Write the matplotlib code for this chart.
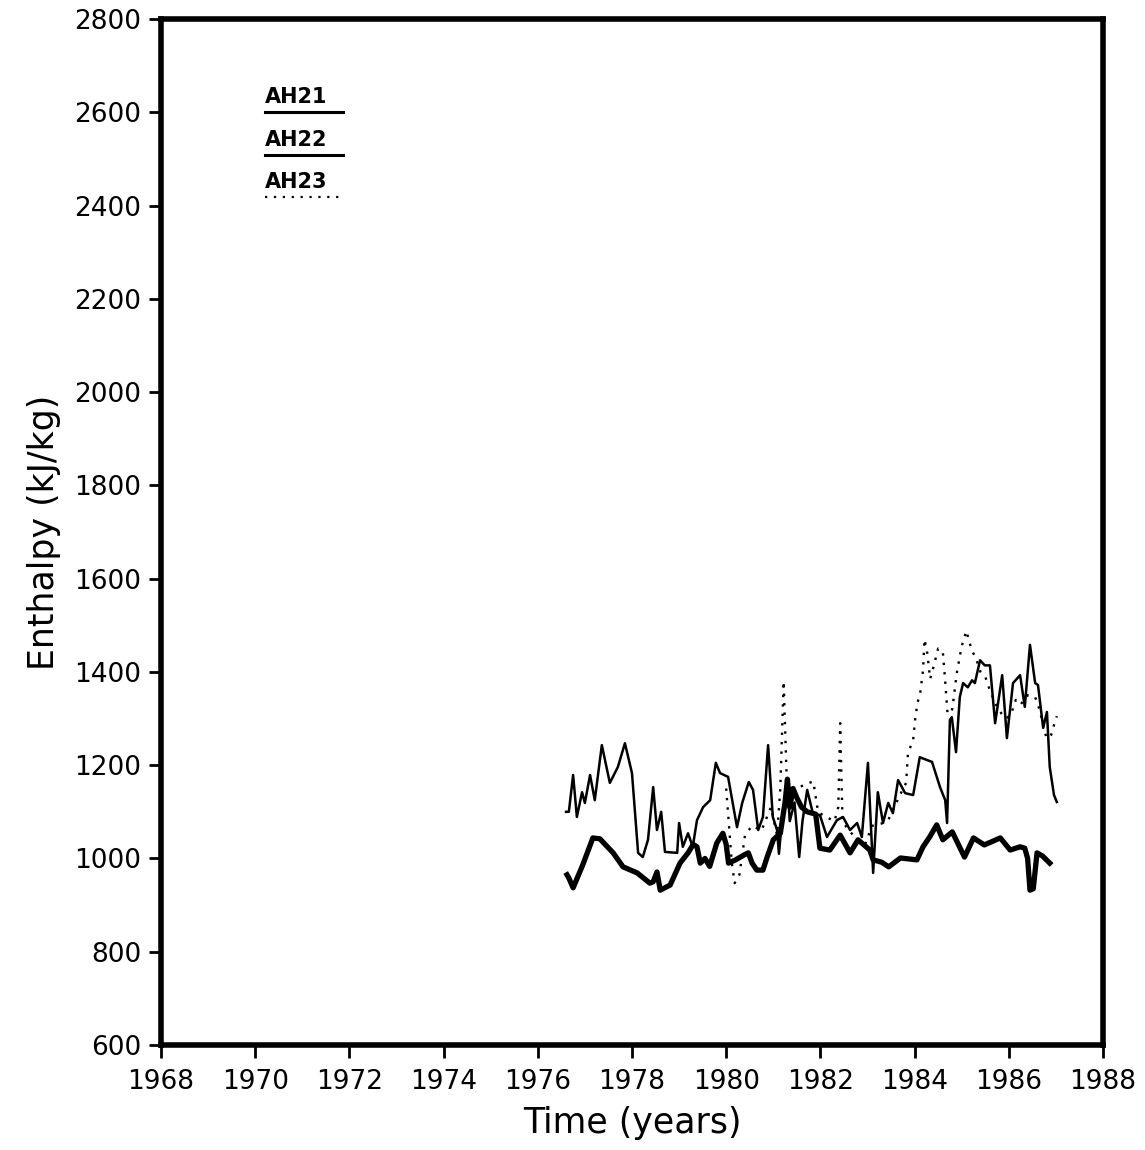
import matplotlib
matplotlib.use("Agg")
import matplotlib.pyplot as plt

# Data (year, enthalpy kJ/kg)
ah21_t = [1976.62, 1976.66, 1976.75, 1976.95, 1977.17, 1977.32, 1977.60, 1977.81,
          1978.11, 1978.38, 1978.45, 1978.53, 1978.60, 1978.81, 1979.02, 1979.19,
          1979.30, 1979.38, 1979.45, 1979.55, 1979.65, 1979.80, 1979.93, 1980.00,
          1980.05, 1980.20, 1980.37, 1980.47, 1980.55, 1980.65, 1980.78, 1980.87,
          1981.00, 1981.15, 1981.25, 1981.30, 1981.35, 1981.42, 1981.50, 1981.60,
          1981.72, 1981.90, 1981.99, 1982.20, 1982.42, 1982.63, 1982.80, 1983.05,
          1983.12, 1983.30, 1983.45, 1983.70, 1984.05, 1984.18, 1984.32, 1984.47,
          1984.60, 1984.80, 1985.06, 1985.25, 1985.48, 1985.82, 1986.03, 1986.24,
          1986.34, 1986.40, 1986.45, 1986.52, 1986.60, 1986.72, 1986.87]
ah21_v = [965, 958, 937, 985, 1044, 1042, 1012, 982,
          969, 947, 950, 971, 932, 943, 990, 1012,
          1030, 1025, 990, 1000, 983, 1033, 1054, 1030,
          990, 997, 1007, 1012, 990, 975, 975, 1003,
          1040, 1054, 1120, 1170, 1110, 1150, 1130, 1110,
          1100, 1095, 1022, 1018, 1050, 1012, 1040, 1018,
          997, 992, 982, 1001, 997, 1025, 1046, 1072,
          1040, 1057, 1003, 1044, 1029, 1044, 1018, 1025,
          1022, 1000, 932, 935, 1012, 1005, 990]

ah22_t = [1976.60, 1976.66, 1976.75, 1976.83, 1976.94, 1977.00, 1977.11, 1977.21,
          1977.36, 1977.53, 1977.70, 1977.85, 1978.00, 1978.13, 1978.23, 1978.34,
          1978.45, 1978.53, 1978.62, 1978.70, 1978.96, 1979.00, 1979.08, 1979.19,
          1979.29, 1979.38, 1979.51, 1979.66, 1979.78, 1979.87, 1980.04, 1980.23,
          1980.34, 1980.48, 1980.57, 1980.68, 1980.78, 1980.89, 1980.99, 1981.08,
          1981.12, 1981.20, 1981.30, 1981.35, 1981.45, 1981.55, 1981.62, 1981.72,
          1981.84, 1981.99, 1982.14, 1982.35, 1982.48, 1982.63, 1982.78, 1982.88,
          1983.01, 1983.12, 1983.22, 1983.33, 1983.44, 1983.54, 1983.65, 1983.80,
          1983.97, 1984.11, 1984.37, 1984.54, 1984.65, 1984.69, 1984.75, 1984.79,
          1984.88, 1984.96, 1985.03, 1985.13, 1985.22, 1985.28, 1985.39, 1985.49,
          1985.60, 1985.71, 1985.86, 1985.96, 1986.09, 1986.24, 1986.34, 1986.45,
          1986.56, 1986.62, 1986.73, 1986.81, 1986.87, 1986.96, 1987.02]
ah22_v = [1100, 1100, 1179, 1089, 1142, 1119, 1179, 1125,
          1243, 1162, 1196, 1247, 1183, 1012, 1003, 1040,
          1153, 1061, 1100, 1014, 1012, 1076, 1025, 1054,
          1025, 1082, 1110, 1125, 1205, 1183, 1175, 1067,
          1119, 1164, 1147, 1061, 1089, 1243, 1089, 1061,
          1010, 1100, 1160, 1080, 1120, 1003, 1080, 1147,
          1097, 1093, 1046, 1082, 1089, 1061, 1076, 1046,
          1205, 969, 1142, 1076, 1119, 1097, 1168, 1140,
          1136, 1217, 1207, 1153, 1125, 1076, 1297, 1303,
          1228, 1346, 1376, 1367, 1382, 1376, 1425, 1414,
          1414, 1290, 1393, 1258, 1376, 1393, 1325, 1458,
          1376, 1372, 1280, 1314, 1196, 1136, 1121]

ah23_t = [1980.00, 1980.12, 1980.18, 1980.28, 1980.40, 1980.55, 1980.75, 1980.95,
          1981.08, 1981.15, 1981.22, 1981.30, 1981.38, 1981.50, 1981.70, 1981.85,
          1981.95, 1982.10, 1982.30, 1982.38, 1982.42, 1982.47, 1982.60, 1982.80,
          1982.95, 1983.10, 1983.30, 1983.44, 1983.69, 1983.82, 1983.86, 1983.97,
          1984.01, 1984.06, 1984.12, 1984.18, 1984.21, 1984.27, 1984.33, 1984.40,
          1984.50, 1984.60, 1984.65, 1984.70, 1984.80, 1984.90, 1985.00, 1985.10,
          1985.16, 1985.22, 1985.30, 1985.40, 1985.50, 1985.60, 1985.75, 1985.85,
          1985.95, 1986.05, 1986.15, 1986.25, 1986.40, 1986.56, 1986.65, 1986.80,
          1986.90, 1986.96, 1987.02]
ah23_v = [1150, 990, 947, 965, 1050, 1070, 1060, 1110,
          1050, 1150, 1380, 1120, 1120, 1150, 1160, 1165,
          1100, 1090, 1080, 1110, 1290, 1080, 1060, 1040,
          1030, 1070, 1075, 1082, 1136, 1162, 1226, 1254,
          1297, 1333, 1355, 1404, 1470, 1440, 1385, 1410,
          1450, 1443, 1380, 1310, 1320, 1400, 1455, 1488,
          1465, 1445, 1430, 1400, 1390, 1360, 1325, 1310,
          1300, 1310, 1340, 1330, 1350, 1346, 1320, 1258,
          1265, 1286, 1305]

x_ticks = list(range(1968, 1989, 2))
y_ticks = list(range(600, 2801, 200))

fig = plt.figure(figsize=(11.45, 11.5), dpi=100)
ax = fig.add_axes([0.1406, 0.0913, 0.8227, 0.8922])

ax.plot(ah21_t, ah21_v, color="black", lw=3.8, solid_joinstyle="round")
ax.plot(ah22_t, ah22_v, color="black", lw=1.8, solid_joinstyle="round")
ax.plot(ah23_t, ah23_v, color="black", lw=1.7, linestyle=(0, (1, 3)))

# hand drawn style legend in the upper left
legend = [("AH21", "-", 2.2, 0.909), ("AH22", "-", 2.2, 0.867), ("AH23", (0, (1, 3)), 1.6, 0.8265)]
for name, ls, lw, yy in legend:
    ax.plot([0.110, 0.193], [yy, yy], transform=ax.transAxes, color="black",
            lw=lw, linestyle=ls)
    ax.text(0.110, yy + 0.005, name, transform=ax.transAxes, fontsize=15,
            fontweight="bold", ha="left", va="bottom")

ax.set_xlim(1968, 1988)
ax.set_ylim(600, 2800)
ax.set_xticks(x_ticks)
ax.set_yticks(y_ticks)
ax.tick_params(axis="both", direction="out", length=9, width=2, labelsize=19)
ax.tick_params(axis="x", pad=8)
ax.tick_params(axis="y", pad=5)
for s in ax.spines.values():
    s.set_linewidth(4)

ax.set_xlabel("Time (years)", fontsize=25, labelpad=8)
ax.set_ylabel("Enthalpy (kJ/kg)", fontsize=25, labelpad=10)

fig.savefig("out.png", dpi=100)
